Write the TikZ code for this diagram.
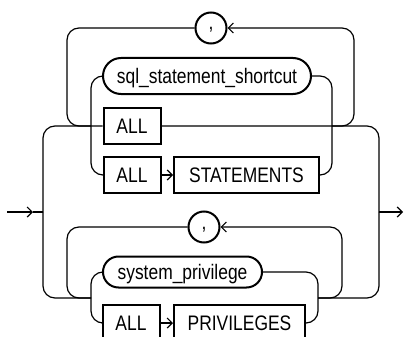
\documentclass[tikz,border=0pt]{standalone}
\usepackage{fontspec}
\setmainfont{Liberation Sans}[FakeStretch=0.83]
\usetikzlibrary{arrows.meta,shapes.misc}
\begin{document}
\begin{tikzpicture}[x=1pt,y=-1pt, line width=1.2pt,
  kwbox/.style={draw, line width=2pt, fill=white, inner sep=0pt, minimum height=36pt,
    text height=15pt, text depth=0pt, font=\fontsize{21}{25}\selectfont},
  ntbox/.style={kwbox, rounded rectangle},
  commabox/.style={draw, circle, line width=2pt, minimum size=31pt, inner sep=0pt,
    text height=4pt, text depth=0pt, font=\fontsize{21}{25}\selectfont},
  arrowline/.style={-{Straight Barb[length=5pt,width=10pt]}},
  rcorner/.style={rounded corners=12pt}]
\clip (0,0) rectangle (404,337);
% nodes
\node[commabox] (c1) at (211,28) {,};
\node[ntbox, minimum width=208pt] (sql) at (207,76) {sql\_statement\_shortcut};
\node[kwbox, minimum width=57pt] (all1) at (132,126) {ALL};
\node[kwbox, minimum width=57pt] (all2) at (132,175) {ALL};
\node[kwbox, minimum width=145pt] (stm) at (246.5,175) {STATEMENTS};
\node[commabox] (c2) at (204,227) {,};
\node[ntbox, minimum width=159pt, minimum height=31pt] (sys) at (182.5,272) {system\_privilege};
\node[kwbox, minimum width=57pt] (all3) at (131,323) {ALL};
\node[kwbox, minimum width=131pt] (prv) at (239.5,323) {PRIVILEGES};
% coordinates
\coordinate (s) at (7,212);
\coordinate (a) at (33,212);
\coordinate (jl) at (43,212);
\coordinate (jr) at (379,212);
\coordinate (e) at (403,212);
\coordinate (tl) at (67,126);
\coordinate (tr) at (354,126);
\coordinate (tli) at (91,126);
\coordinate (tri) at (332,126);
\coordinate (bl) at (67,298);
\coordinate (br) at (342,298);
\coordinate (bli) at (91,298);
\coordinate (bri) at (318,298);
% main line
\draw[arrowline] (s) -- (a);
\draw (a) -- (jl);
\draw[arrowline] (jr) -- (e);
% top branch
\draw[rcorner] (jl) |- (all1.west);
\draw[rcorner] (all1.east) -| (jr);
\draw[rcorner] (c1.west) -| (tl) -- (tli);
\draw[rcorner, arrowline] (tri) -| (tr |- c1) -- (c1.east);
\draw[rcorner] (sql.west) -| (tli |- all2.west) -- (all2.west);
\draw[rcorner] (sql.east) -| (tri |- stm.east) -- (stm.east);
\draw[arrowline] (all2) -- (stm);
% bottom branch
\draw[rcorner] (jl) |- (bli);
\draw[rcorner] (bri) -| (jr);
\draw[rcorner] (c2.west) -| (bl) -- (bli);
\draw[rcorner, arrowline] (bri) -| (br |- c2) -- (c2.east);
\draw[rcorner] (sys.west) -| (bli |- all3.west) -- (all3.west);
\draw[rcorner] (sys.east) -| (bri |- prv.east) -- (prv.east);
\draw[arrowline] (all3) -- (prv);
\end{tikzpicture}
\end{document}
